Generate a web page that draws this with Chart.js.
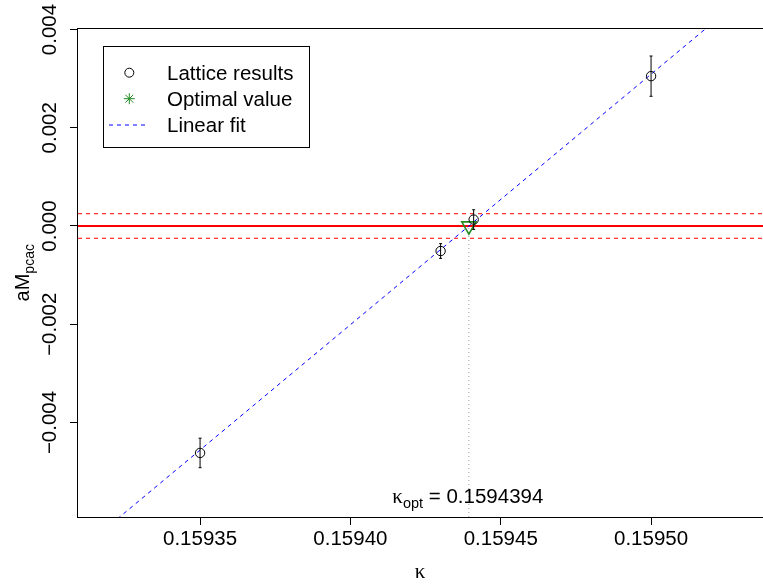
<!DOCTYPE html>
<html>
<head>
<meta charset="utf-8">
<script src="https://cdn.jsdelivr.net/npm/chart.js@4.4.0/dist/chart.umd.min.js"></script>
<style>
  html, body { margin: 0; padding: 0; background: #ffffff; overflow: hidden; }
  #wrap { width: 763px; height: 586px; overflow: hidden; }
  canvas { display: block; }
</style>
</head>
<body>
<div id="wrap"><canvas id="chart" width="763" height="586"></canvas></div>
<script>
// Lattice measurements of the PCAC mass against the hopping parameter kappa
const kappa = [0.15935, 0.15943, 0.159441, 0.15950];
const mPcac = [-0.00462, -0.00051, 0.00013, 0.00305];
const mErr  = [0.00030, 0.00015, 0.00020, 0.00041];

// Zero crossing of the linear fit
const kappaOpt = 0.1594394;
const mOpt = 0;
const kappaOptText = '0.1594394';

// Linear fit evaluated at two kappa values (clipped by the plot area)
const fitKappa = [0.15930, 0.15955];
const fitM = [-0.00711, 0.00564];

// Target band around zero mass
const bandCenter = 0;
const bandHalf = 0.00025;

// Axes
const xTicks = [0.15935, 0.15940, 0.15945, 0.15950];
const yTicks = [-0.004, -0.002, 0, 0.002, 0.004];
const xLimits = [0.1593094, 0.1595373];
const yLimits = [-0.005924, 0.00402];

const SANS = '"Liberation Sans", Arial, Helvetica, sans-serif';
const SERIF = '"Liberation Serif", "Times New Roman", serif';
const GREEN = '#228B22';
const PLOT_RIGHT = 763;   // the plot region runs up to the page edge
const PAGE_W = 763, PAGE_H = 586;

const latticePoints = kappa.map((k, i) => ({ x: k, y: mPcac[i] }));
const fitPoints = fitKappa.map((k, i) => ({ x: k, y: fitM[i] }));
const hLine = v => [{ x: xLimits[0], y: v }, { x: xLimits[1], y: v }];

function makeDatasets() {
  return [
    {
      label: 'Lattice results', data: latticePoints,
      pointStyle: 'circle', pointRadius: 4.7, pointBorderWidth: 1,
      borderColor: '#000000', backgroundColor: 'rgba(0,0,0,0)', showLine: false,
      legendStyle: 'circle', legendRadius: 4.5
    },
    {
      label: 'Optimal value', data: [{ x: kappaOpt, y: mOpt }],
      pointStyle: 'triangle', rotation: 180, pointRadius: 8.2, pointBorderWidth: 1.6,
      borderColor: GREEN, backgroundColor: 'rgba(0,0,0,0)', showLine: false,
      legendStyle: 'star', legendRadius: 5.5
    },
    {
      label: 'Linear fit', data: fitPoints, showLine: true,
      borderColor: '#0000FF', borderWidth: 1, borderDash: [4, 4], pointRadius: 0,
      legendLine: true
    },
    {
      label: '', data: hLine(bandCenter), showLine: true,
      borderColor: '#FF0000', borderWidth: 2, pointRadius: 0
    },
    {
      label: '', data: hLine(bandCenter + bandHalf), showLine: true,
      borderColor: '#FF0000', borderWidth: 1, borderDash: [4, 4], pointRadius: 0
    },
    {
      label: '', data: hLine(bandCenter - bandHalf), showLine: true,
      borderColor: '#FF0000', borderWidth: 1, borderDash: [4, 4], pointRadius: 0
    },
    {
      label: '', data: [{ x: kappaOpt, y: yLimits[0] }, { x: kappaOpt, y: mOpt }], showLine: true,
      borderColor: '#A0A0A0', borderWidth: 1, borderDash: [1, 3], pointRadius: 0
    }
  ];
}

function drawParts(ctx, parts, x, y, align) {
  let total = 0;
  parts.forEach(p => { ctx.font = p.font; p.w = ctx.measureText(p.t).width; total += p.w; });
  let cx = align === 'center' ? x - total / 2 : x;
  parts.forEach(p => {
    ctx.font = p.font;
    ctx.fillText(p.t, cx, y + (p.dy || 0));
    cx += p.w;
  });
}

const decorations = {
  id: 'decorations',
  afterDatasetsDraw(chart) {
    const { ctx, scales: { x, y } } = chart;
    ctx.save();
    // error bars
    ctx.strokeStyle = '#000000';
    ctx.lineWidth = 1;
    kappa.forEach((k, i) => {
      const px = x.getPixelForValue(k);
      const y1 = y.getPixelForValue(mPcac[i] + mErr[i]);
      const y2 = y.getPixelForValue(mPcac[i] - mErr[i]);
      ctx.beginPath();
      ctx.moveTo(px, y1); ctx.lineTo(px, y2);
      ctx.moveTo(px - 1.5, y1); ctx.lineTo(px + 1.5, y1);
      ctx.moveTo(px - 1.5, y2); ctx.lineTo(px + 1.5, y2);
      ctx.stroke();
    });
    ctx.restore();
  },
  afterDraw(chart) {
    const { ctx, chartArea: a, scales: { x } } = chart;
    ctx.save();
    // plot frame (right side lies past the page edge)
    ctx.strokeStyle = '#000000';
    ctx.lineWidth = 1;
    ctx.strokeRect(Math.round(a.left) - 0.5, Math.round(a.top) - 0.5,
                   a.right - a.left + 40, Math.round(a.bottom) - Math.round(a.top) + 1);

    ctx.fillStyle = '#000000';
    ctx.textBaseline = 'alphabetic';
    ctx.textAlign = 'left';
    // kappa_opt annotation
    drawParts(ctx, [
      { t: 'κ', font: '21px ' + SERIF },
      { t: 'opt', font: '14.5px ' + SANS, dy: 5 },
      { t: ' = ' + kappaOptText, font: '20.5px ' + SANS }
    ], x.getPixelForValue(kappaOpt) - 1, a.bottom - 14, 'center');

    // x axis title
    drawParts(ctx, [{ t: 'κ', font: '21px ' + SERIF }], 420, 578, 'center');

    // y axis title
    ctx.save();
    ctx.translate(29, (a.top + a.bottom) / 2);
    ctx.rotate(-Math.PI / 2);
    drawParts(ctx, [
      { t: 'aM', font: '20px ' + SANS },
      { t: 'pcac', font: '14px ' + SANS, dy: 5 }
    ], 0, 0, 'center');
    ctx.restore();

    // legend
    const bx = 103.5, by = 46.5, bw = 206, bh = 101;
    ctx.fillStyle = '#ffffff';
    ctx.fillRect(bx, by, bw, bh);
    ctx.strokeStyle = '#000000';
    ctx.lineWidth = 1;
    ctx.strokeRect(bx, by, bw, bh);
    const rows = [72.7, 98.7, 124.5];
    const symX = 129.3, textX = 167;
    chart.data.datasets.filter(d => d.label).forEach((d, i) => {
      const ry = rows[i];
      if (d.legendLine) {
        ctx.save();
        ctx.strokeStyle = d.borderColor;
        ctx.lineWidth = d.borderWidth;
        ctx.setLineDash(d.borderDash);
        ctx.beginPath();
        ctx.moveTo(109, Math.round(ry));
        ctx.lineTo(149, Math.round(ry));
        ctx.stroke();
        ctx.restore();
      } else {
        ctx.save();
        ctx.strokeStyle = d.borderColor;
        ctx.fillStyle = 'rgba(0,0,0,0)';
        ctx.lineWidth = 1;
        Chart.helpers.drawPoint(ctx, {
          pointStyle: d.legendStyle, radius: d.legendRadius, rotation: 0, borderWidth: 1
        }, symX, ry);
        ctx.restore();
      }
      ctx.fillStyle = '#000000';
      ctx.font = '20.5px ' + SANS;
      ctx.textAlign = 'left';
      ctx.fillText(d.label, textX, ry + 7);
    });
    ctx.restore();
  }
};

function fixX(s) { s.height = 69; s.paddingLeft = 0; s.paddingRight = 0; s.paddingTop = 0; s.paddingBottom = 0; }
function fixY(s) { s.width = 78; s.paddingLeft = 0; s.paddingRight = 0; s.paddingTop = 0; s.paddingBottom = 0; }

function makeConfig() {
  return {
    type: 'scatter',
    data: { datasets: makeDatasets() },
    options: {
      responsive: false,
      animation: false,
      devicePixelRatio: 1,
      layout: { padding: { top: 28.5, left: 0, right: 0, bottom: 0 } },
      plugins: { legend: { display: false }, tooltip: { enabled: false } },
      scales: {
        x: {
          type: 'linear', position: 'bottom', min: xLimits[0], max: xLimits[1],
          afterBuildTicks: s => { s.ticks = xTicks.map(v => ({ value: v })); },
          afterFit: fixX,
          border: { display: false },
          grid: { display: true, drawOnChartArea: false, drawTicks: true, tickLength: 8, color: '#000000', lineWidth: 1 },
          ticks: {
            autoSkip: false, maxRotation: 0, minRotation: 0, padding: 2,
            color: '#000000', font: { family: SANS, size: 20.5 },
            callback: v => Number(v).toFixed(5)
          }
        },
        y: {
          type: 'linear', position: 'left', min: yLimits[0], max: yLimits[1],
          afterBuildTicks: s => { s.ticks = yTicks.map(v => ({ value: v })); },
          afterFit: fixY,
          border: { display: false },
          grid: { display: true, drawOnChartArea: false, drawTicks: true, tickLength: 8, color: '#000000', lineWidth: 1 },
          ticks: {
            autoSkip: false, minRotation: 90, maxRotation: 90, crossAlign: 'center', padding: -12,
            color: '#000000', font: { family: SANS, size: 20.5 },
            callback: v => (v < 0 ? '\u2212' : '') + Math.abs(v).toFixed(3)
          }
        }
      }
    },
    plugins: [decorations]
  };
}

// The library keeps a small right margin; widen the canvas (clipped by the
// wrapper) until the plot region's right side reaches the page edge.
const canvas = document.getElementById('chart');
let chart = new Chart(canvas, makeConfig());
for (let pass = 0; pass < 3; pass++) {
  const gap = PLOT_RIGHT - chart.chartArea.right;
  if (Math.abs(gap) < 0.5) break;
  const w = Math.round(chart.width + gap);
  chart.destroy();
  canvas.width = w;
  canvas.height = PAGE_H;
  canvas.style.width = w + 'px';
  canvas.style.height = PAGE_H + 'px';
  chart = new Chart(canvas, makeConfig());
}
</script>
</body>
</html>
